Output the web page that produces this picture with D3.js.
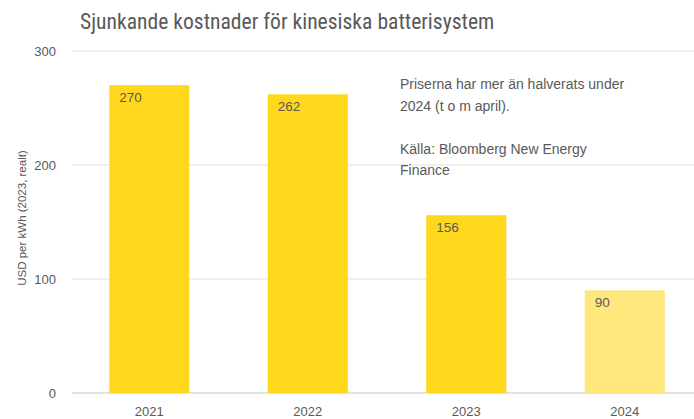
<!DOCTYPE html>
<html><head><meta charset="utf-8">
<script src="https://cdn.jsdelivr.net/npm/d3@7"></script>
<style>body{margin:0;background:#fff}svg{display:block}</style>
</head><body>
<svg id="c" width="694" height="419"></svg>
<script>
const years = ["2021","2022","2023","2024"];
const values = [270, 262, 156, 90];
const barColors = ["#FFD71C","#FFD71C","#FFD71C","#FFE77E"];
const yTicks = [0,100,200,300];
const title = "Sjunkande kostnader för kinesiska batterisystem";
const yLabel = "USD per kWh (2023, realt)";
const note = ["Priserna har mer än halverats under","2024 (t o m april).","","Källa: Bloomberg New Energy","Finance"];

const svg = d3.select("#c");
const font = "'Liberation Sans Narrow','Roboto Condensed','Liberation Sans',sans-serif";
const sans = "'Liberation Sans',Arial,sans-serif";
const txt = "#595959";
const x = d3.scaleBand().domain(years).range([70, 704]).paddingInner(0.495).paddingOuter(0.2475);
const y = d3.scaleLinear().domain([0,300]).range([393, 51]);

svg.append("g").selectAll("line").data(yTicks).join("line")
  .attr("x1", 72).attr("x2", 694)
  .attr("y1", d=>y(d)).attr("y2", d=>y(d))
  .attr("stroke", d=>d===0?"#d9d9d9":"#e0e0e0").attr("stroke-width", d=>d===0?1.5:1);

svg.append("g").selectAll("text").data(yTicks).join("text")
  .attr("x", 56).attr("y", d=>y(d)+4.5).attr("text-anchor","end")
  .attr("font-family",sans).attr("font-size",13).attr("fill",txt)
  .text(d=>d);

svg.append("text").attr("transform","translate(26,218) rotate(-90)")
  .attr("text-anchor","middle").attr("font-family",sans)
  .attr("font-size",11.5).attr("fill",txt).text(yLabel);

svg.append("g").selectAll("rect").data(values).join("rect")
  .attr("x",(d,i)=>x(years[i])).attr("width",x.bandwidth())
  .attr("y",d=>y(d)).attr("height",d=>y(0)-y(d))
  .attr("fill",(d,i)=>barColors[i]);

svg.append("g").selectAll("text").data(values).join("text")
  .attr("x",(d,i)=>x(years[i])+10).attr("y",d=>y(d)+16.5)
  .attr("font-family",sans).attr("font-size",13.5).attr("fill",txt)
  .text(d=>d);

svg.append("g").selectAll("text").data(years).join("text")
  .attr("x",d=>x(d)+x.bandwidth()/2).attr("y",416).attr("text-anchor","middle")
  .attr("font-family",sans).attr("font-size",13).attr("fill",txt)
  .text(d=>d);

svg.append("text").attr("x",80).attr("y",29)
  .attr("font-family",font).attr("font-size",21.6).attr("fill",txt).text(title);

svg.append("g").selectAll("text").data(note).join("text")
  .attr("x",400).attr("y",(d,i)=>89+i*21.5)
  .attr("font-family",sans).attr("font-size",14).attr("fill",txt).text(d=>d);
</script>
</body></html>
